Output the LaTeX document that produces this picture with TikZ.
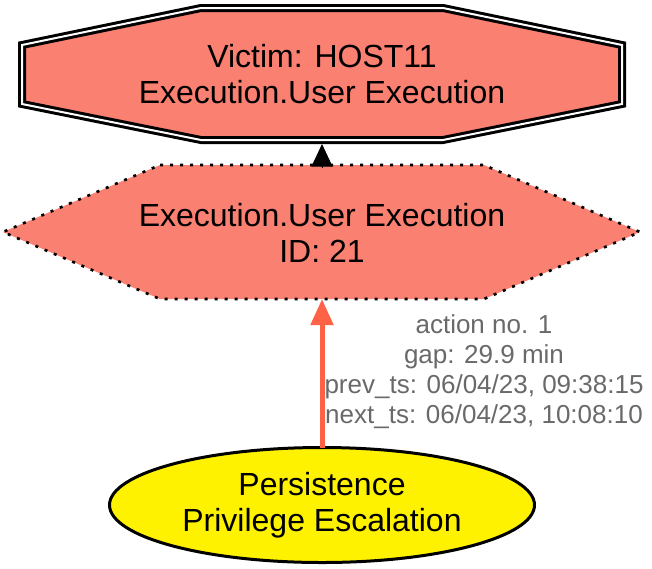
\documentclass[tikz,border=0pt]{standalone}
\usepackage{fontspec}
\setmainfont{Liberation Sans}
\usepackage{tikz}
\usetikzlibrary{arrows.meta,shapes.geometric,backgrounds,calc}

\definecolor{salmon}{HTML}{FA8072}
\definecolor{tomato}{HTML}{FF6347}
\definecolor{dimgrey}{HTML}{696969}

\begin{document}
\begin{tikzpicture}[x=0.75pt,y=-0.75pt,
		bigtext/.style={font=\fontsize{24}{27}\selectfont, align=center, inner sep=0pt, outer sep=0pt},
		victimbox/.style={inner sep=0pt, outer sep=0pt, minimum width=181.5pt, minimum height=99pt},
		actionbox/.style={inner sep=0pt, outer sep=0pt, minimum width=243pt, minimum height=100.5pt},
		tacticbox/.style={bigtext, ellipse, draw=black, line width=2.25pt, fill=yellow, minimum width=318.75pt, minimum height=86.25pt},
		gaptext/.style={font=\fontsize{19.5}{22.5}\selectfont, text=dimgrey, align=center, inner sep=0pt},
		victimline/.style={fill=salmon, draw=black, line width=2.25pt, double=white, double distance=1.5pt},
		actionline/.style={fill=salmon, draw=black, line width=2pt, dash pattern=on 2.25pt off 5.25pt},
		steparrow/.style={draw=tomato, line width=3.75pt, -{Triangle[length=19.5pt,width=16.5pt]}},
		hostarrow/.style={draw=black, line width=0.75pt, -{Triangle[length=17pt,width=15.75pt]}}]
		\useasboundingbox (0,0) rectangle (652,568);
		
		% victim
		\node[victimbox] (victim) at (322,74) {};
		\node[bigtext] (victimtext) at (victim.center) {Victim: HOST11\\Execution.User Execution};
		
		% action
		\node[actionbox] (action) at (322,232) {};
		\node[bigtext] (actiontext) at ([yshift=-1pt]action.center) {Execution.User Execution\\ID: 21};
		
		% tactic
		\node[tacticbox] (tactic) at (322,505) {Persistence\\Privilege Escalation};
		
		% outlines
		\begin{scope}[on background layer]
			\filldraw[victimline] (victim.north west) -- (victim.north east) -- ($(victim.north east)+(179,37)$) -- ($(victim.south east)+(179,-36)$) -- (victim.south east) -- (victim.south west) -- ($(victim.south west)+(-179,-36)$) -- ($(victim.north west)+(-179,37)$) -- cycle;
			\filldraw[actionline] (action.north west) -- (action.north east) -- ($(action.east)+(156,0)$) -- (action.south east) -- (action.south west) -- ($(action.west)+(-157,0)$) -- cycle;
		\end{scope}
		
		% edges
		\draw[steparrow] (tactic.north) -- (action.south);
		\draw[hostarrow] ([yshift=-2pt]action.north) -- ([yshift=-3pt]victim.south);
		
		% label
		\node[gaptext] (gap) at (484,372) {action no. 1\\gap: 29.9 min\\prev\_ts: 06/04/23, 09:38:15\\next\_ts: 06/04/23, 10:08:10};
	\end{tikzpicture}
\end{document}
